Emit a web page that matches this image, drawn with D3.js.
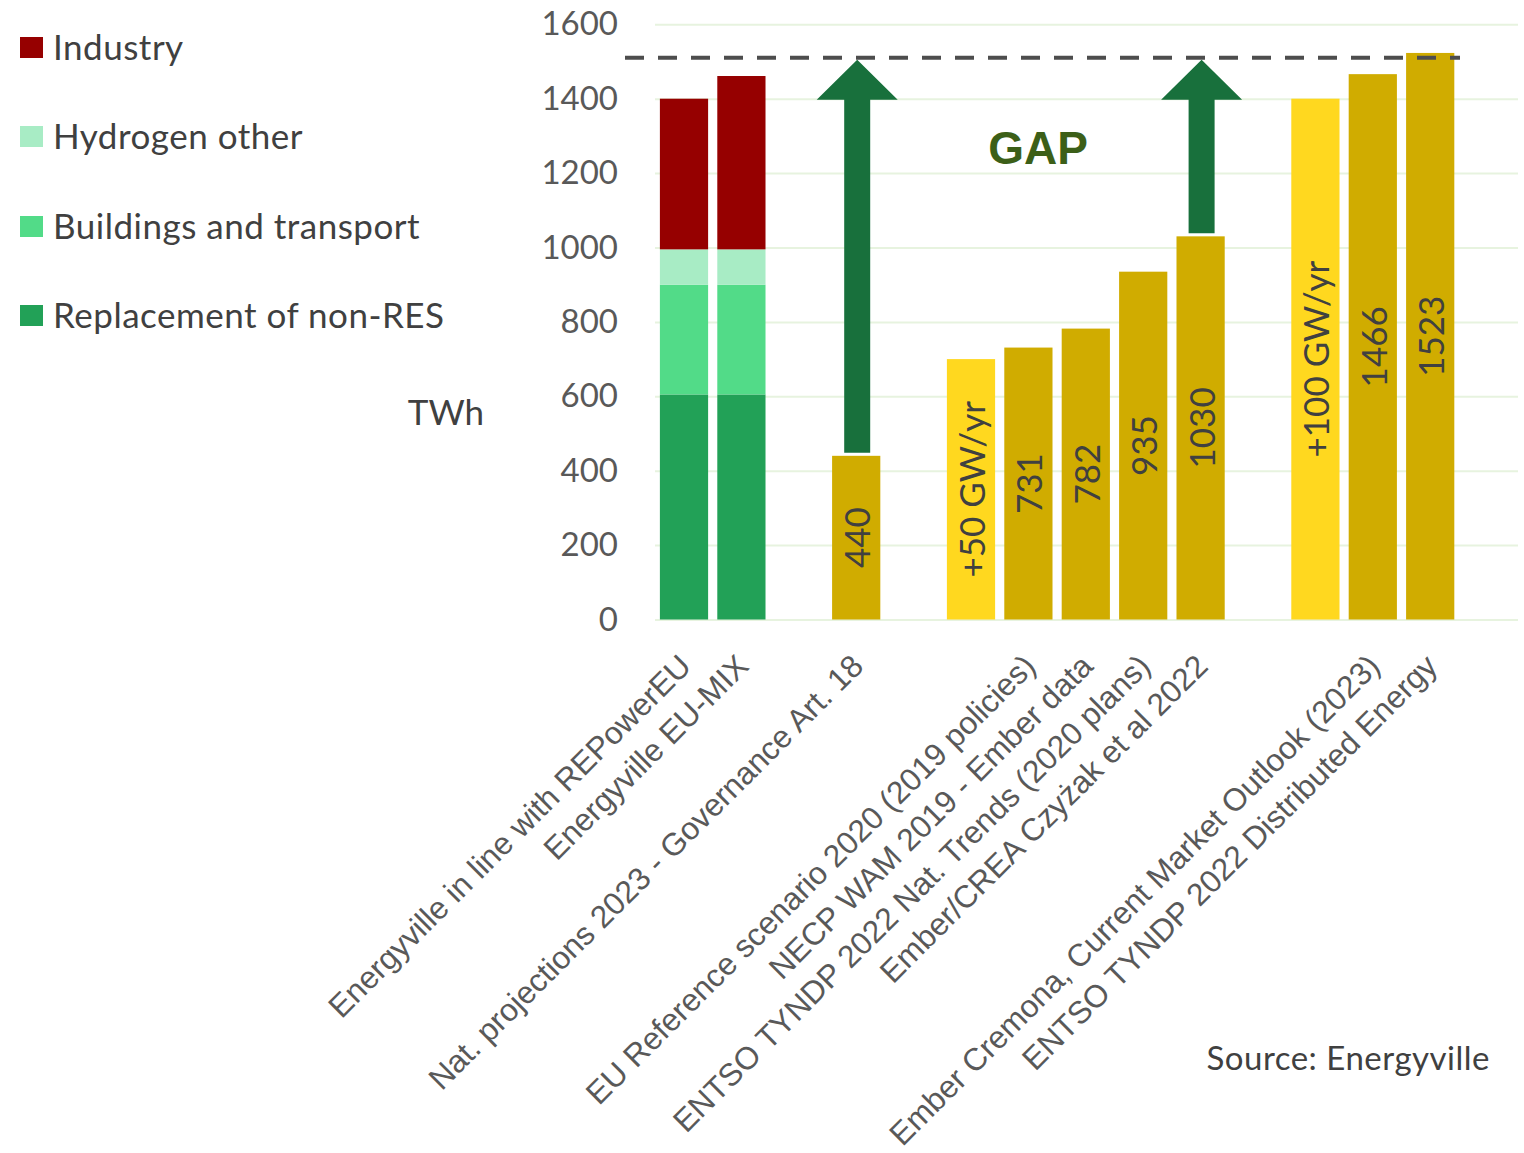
<!DOCTYPE html>
<html>
<head>
<meta charset="utf-8">
<script src="https://cdn.jsdelivr.net/npm/d3@7"></script>
<style>
  html, body { margin: 0; padding: 0; background: #ffffff; }
  svg { display: block; }
</style>
</head>
<body>
<svg id="chart" width="1524" height="1153"></svg>
<script>
// Category slots along the x axis (blank strings are spacer slots)
const categoryLabels = [
  "Energyville in line with REPowerEU",
  "Energyville EU-MIX",
  "",
  "Nat. projections 2023 - Governance Art. 18",
  "",
  "",
  "EU Reference scenario 2020 (2019 policies)",
  "NECP WAM 2019 - Ember data",
  "ENTSO TYNDP 2022 Nat. Trends (2020 plans)",
  "Ember/CREA Czyżak et al 2022",
  "",
  "",
  "Ember Cremona, Current Market Outlook (2023)",
  "ENTSO TYNDP 2022 Distributed Energy",
  ""
];

// Stacked demand build-up (TWh) for the first two slots
const stackSlots = [0, 1];
const stackKeys = ["Replacement of non-RES", "Buildings and transport", "Hydrogen other", "Industry"];
const replacementNonRes = [605, 605];
const buildingsTransport = [295, 295];
const hydrogenOther = [95, 95];
const industry = [405, 466];

// Single-value scenario bars (TWh)
const scenarioSlots = [3, 5, 6, 7, 8, 9, 11, 12, 13];
const scenarioValues = [440, 700, 731, 782, 935, 1030, 1400, 1466, 1523];
const scenarioLabels = ["440", "+50 GW/yr", "731", "782", "935", "1030", "+100 GW/yr", "1466", "1523"];
const scenarioKind = ["proj", "ref", "proj", "proj", "proj", "proj", "ref", "proj", "proj"];

// Target line and gap arrows
const targetValue = 1510;
const gapSlots = [3, 9];
const gapFrom = [440, 1030];

const yTicks = [0, 200, 400, 600, 800, 1000, 1200, 1400, 1600];

const stackColors = {
  "Replacement of non-RES": "#22a157",
  "Buildings and transport": "#52db88",
  "Hydrogen other": "#a8ecc5",
  "Industry": "#960000"
};
const legendOrder = ["Industry", "Hydrogen other", "Buildings and transport", "Replacement of non-RES"];
const kindColors = { proj: "#d0ac00", ref: "#ffd81f" };

const svg = d3.select("#chart");

const x = d3.scaleBand()
  .domain(d3.range(categoryLabels.length))
  .range([655.3, 1516.3])
  .paddingInner(0.16)
  .paddingOuter(0.08);

const y = d3.scaleLinear().domain([0, 1600]).range([619.5, 24.3]);

// Gridlines
const grid = svg.append("g")
  .attr("transform", "translate(655,0)")
  .call(d3.axisRight(y).tickValues(yTicks).tickSize(1518 - 655).tickFormat(""));
grid.select(".domain").remove();
grid.selectAll(".tick line").attr("stroke", "#e7f3df").attr("stroke-width", 2);

// Y axis labels
const yAxis = svg.append("g")
  .attr("transform", "translate(618,0)")
  .call(d3.axisLeft(y).tickValues(yTicks).tickSize(0).tickPadding(0).tickFormat(d3.format("d")));
yAxis.select(".domain").remove();
yAxis.selectAll("text")
  .attr("font-family", "Lato, 'Open Sans', sans-serif")
  .attr("font-size", 33)
  .attr("fill", "#595959");

// Stacked bars
const stackRows = stackSlots.map((s, i) => ({
  slot: s,
  "Replacement of non-RES": replacementNonRes[i],
  "Buildings and transport": buildingsTransport[i],
  "Hydrogen other": hydrogenOther[i],
  "Industry": industry[i]
}));
const stacked = d3.stack().keys(stackKeys)(stackRows);
svg.append("g").selectAll("g")
  .data(stacked)
  .join("g")
  .attr("fill", d => stackColors[d.key])
  .selectAll("rect")
  .data(d => d)
  .join("rect")
  .attr("x", d => x(d.data.slot))
  .attr("width", x.bandwidth())
  .attr("y", d => y(d[1]))
  .attr("height", d => y(d[0]) - y(d[1]));

// Scenario bars
const scen = scenarioSlots.map((s, i) => ({ slot: s, value: scenarioValues[i], label: scenarioLabels[i], kind: scenarioKind[i] }));
svg.append("g").selectAll("rect")
  .data(scen)
  .join("rect")
  .attr("x", d => x(d.slot))
  .attr("width", x.bandwidth())
  .attr("y", d => y(d.value))
  .attr("height", d => y(0) - y(d.value))
  .attr("fill", d => kindColors[d.kind]);

// Value labels inside bars
svg.append("g").selectAll("text")
  .data(scen)
  .join("text")
  .attr("transform", d => `translate(${x(d.slot) + x.bandwidth() / 2},${(y(0) + y(d.value)) / 2}) rotate(-90)`)
  .attr("text-anchor", "middle")
  .attr("dominant-baseline", "central")
  .attr("font-family", "Lato, 'Open Sans', sans-serif")
  .attr("font-size", 35)
  .attr("fill", "#404040")
  .text(d => d.label);

// Target line
svg.append("line")
  .attr("x1", 625).attr("x2", 1460)
  .attr("y1", y(targetValue)).attr("y2", y(targetValue))
  .attr("stroke", "#4d4d4d")
  .attr("stroke-width", 4)
  .attr("stroke-dasharray", "19 14");

// Gap arrows
const arrowData = gapSlots.map((s, i) => ({ slot: s, from: gapFrom[i] }));
const shaftW = 26, headW = 81, headH = 40;
svg.append("g").selectAll("path")
  .data(arrowData)
  .join("path")
  .attr("fill", "#18703c")
  .attr("d", d => {
    const cx = x(d.slot) + x.bandwidth() / 2 + 1;
    const yb = y(d.from) - 3;
    const yt = y(targetValue) + 2;
    const yh = yt + headH;
    return `M${cx - shaftW / 2},${yb} L${cx - shaftW / 2},${yh} L${cx - headW / 2},${yh} L${cx},${yt} L${cx + headW / 2},${yh} L${cx + shaftW / 2},${yh} L${cx + shaftW / 2},${yb} Z`;
  });

svg.append("text")
  .attr("x", 1038).attr("y", 164)
  .attr("text-anchor", "middle")
  .attr("font-family", "'Liberation Sans', Arial, sans-serif")
  .attr("font-weight", "bold")
  .attr("font-size", 46)
  .attr("fill", "#3c5f18")
  .text("GAP");

// Category labels
svg.append("g").selectAll("text")
  .data(categoryLabels.map((t, i) => ({ t, i })).filter(d => d.t !== ""))
  .join("text")
  .attr("transform", d => `translate(${x(d.i) + x.bandwidth() / 2 + 9},${668}) rotate(-45)`)
  .attr("text-anchor", "end")
  .attr("font-family", "'Liberation Sans', Arial, sans-serif")
  .attr("font-size", 31.6)
  .attr("fill", "#595959")
  .text(d => d.t);

// Legend
const legendY = [47, 136, 226, 315];
const legend = svg.append("g").selectAll("g")
  .data(legendOrder)
  .join("g")
  .attr("transform", (d, i) => `translate(20,${legendY[i]})`);
legend.append("rect")
  .attr("x", 0).attr("y", -10).attr("width", 23).attr("height", 21)
  .attr("fill", d => stackColors[d]);
legend.append("text")
  .attr("x", 33).attr("y", -1)
  .attr("dominant-baseline", "central")
  .attr("font-family", "Lato, 'Open Sans', sans-serif")
  .attr("font-size", 35)
  .attr("letter-spacing", 0.5)
  .attr("fill", "#404040")
  .text(d => d);

// Unit label
svg.append("text")
  .attr("x", 484).attr("y", 411)
  .attr("text-anchor", "end")
  .attr("dominant-baseline", "central")
  .attr("font-family", "Lato, 'Open Sans', sans-serif")
  .attr("font-size", 35)
  .attr("fill", "#404040")
  .text("TWh");

// Source note
svg.append("text")
  .attr("x", 1490).attr("y", 1057)
  .attr("text-anchor", "end")
  .attr("dominant-baseline", "central")
  .attr("font-family", "Lato, 'Open Sans', sans-serif")
  .attr("font-size", 33)
  .attr("letter-spacing", 0.5)
  .attr("fill", "#404040")
  .text("Source: Energyville");
</script>
</body>
</html>
